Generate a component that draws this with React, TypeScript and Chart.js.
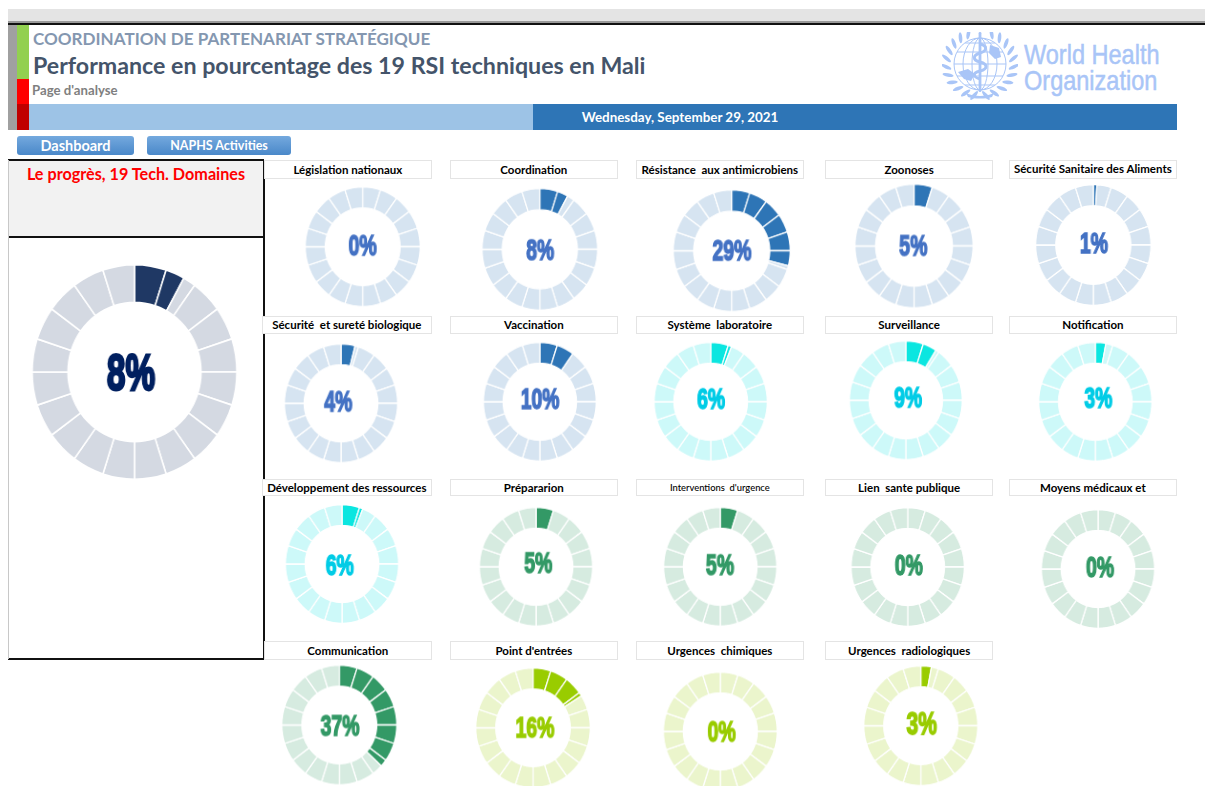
import React, { useEffect, useRef } from "react";
import { Chart, registerables } from "chart.js";

Chart.register(...registerables);

// ---------- data ----------
const domainLabels = [
  "Législation nationaux", "Coordination", "Résistance  aux antimicrobiens", "Zoonoses", "Sécurité Sanitaire des Aliments",
  "Sécurité  et sureté biologique", "Vaccination", "Système  laboratoire", "Surveillance", "Notification",
  "Développement des ressources", "Prépararion", "Interventions  d'urgence", "Lien  sante publique", "Moyens médicaux et",
  "Communication", "Point d'entrées", "Urgences  chimiques", "Urgences  radiologiques",
];
const domainValues = [0, 8, 29, 5, 1, 4, 10, 6, 9, 3, 6, 5, 5, 0, 0, 37, 16, 0, 3];
const overallValue = 8;
const overallTitle = "Le progrès, 19 Tech. Domaines";
const segmentCount = 20;
const segmentSize = 5;

// ---------- layout (page pixels) ----------
const ringCx = [362.7, 539.8, 731.7, 914, 1093.3, 341, 539.8, 710.7, 905.8, 1095.3, 342, 536, 720.2, 907.7, 1098, 339.3, 533, 720.3, 920.8];
const ringCy = [246.7, 249.3, 250.7, 246, 245, 403.3, 401.7, 401.7, 400.3, 401.7, 564, 566.7, 566.7, 567, 569, 725, 727.8, 731.4, 725.7];
const ringRx = [56.7, 57, 57.7, 58.3, 56.7, 56, 55.8, 56, 55.8, 56, 56, 56, 56, 56, 56, 56.7, 56.3, 56.3, 56.2];
const ringRy = [59, 60, 60, 61, 59.3, 58.7, 58.7, 58.7, 58.7, 58.7, 58.7, 58.7, 58.7, 58.7, 58.7, 59, 58.8, 58.7, 59];
const textCx = [362.7, 540.2, 732, 913.3, 1094, 338.3, 540, 711, 908, 1098.3, 339.7, 538.3, 720, 908.7, 1100, 340, 535, 721.7, 921.7];
const textCy = [245, 249.5, 249.7, 245.5, 242.8, 400.8, 398.5, 398.5, 396.5, 397, 565, 562.7, 564.5, 565, 566.3, 725, 727.2, 730.7, 723];
const ringGroup = ["blue", "blue", "blue", "blue", "blue", "blue", "blue", "cyan", "cyan", "cyan", "cyan", "green", "green", "green", "green", "green", "lime", "lime", "lime"];
const boxLeft = [264, 450, 636, 825, 1009, 262, 450, 636, 825, 1009, 262, 450, 636, 825, 1009, 264, 450, 636, 825];
const boxRight = [431.7, 617.7, 803.7, 993.3, 1176.7, 431.7, 617.7, 803.7, 993.3, 1176.7, 431.7, 617.7, 803.7, 993.3, 1176.7, 431.7, 617.7, 803.7, 993.3];
const rowTop = [160, 316, 479, 641];
const rowHeight = [18.5, 18, 17, 18.5];
const rowLine = [18, 16.5, 15, 18];

const palette: Record<string, { dark: string; light: string; text: string }> = {
  blue: { dark: "#2E75B6", light: "#D6E4F1", text: "#4472C4" },
  cyan: { dark: "#0BE6E0", light: "#CDF9F9", text: "#00CCE6" },
  green: { dark: "#339966", light: "#D6EBE0", text: "#339966" },
  lime: { dark: "#99CC00", light: "#EBF5CC", text: "#99CC00" },
  navy: { dark: "#1F3864", light: "#D4D9E2", text: "#002060" },
};

function slicesFor(value: number) {
  const data: number[] = [];
  const kinds: boolean[] = [];
  for (let i = 0; i < segmentCount; i++) {
    const low = i * segmentSize;
    const high = low + segmentSize;
    if (value >= high) {
      data.push(segmentSize);
      kinds.push(true);
    } else if (value <= low) {
      data.push(segmentSize);
      kinds.push(false);
    } else {
      data.push(value - low, high - value);
      kinds.push(true, false);
    }
  }
  return { data, kinds };
}

type RingProps = {
  value: number;
  group: string;
  cx: number;
  cy: number;
  rx: number;
  ry: number;
  tx: number;
  ty: number;
  fontSize: number;
  border: number;
};

function Ring({ value, group, cx, cy, rx, ry, tx, ty, fontSize, border }: RingProps) {
  const ref = useRef<HTMLCanvasElement>(null);
  const size = Math.ceil(2 * ry + 2 * border);
  const sx = rx / ry;
  const left = cx - (size * sx) / 2;
  const top = cy - size / 2;
  useEffect(() => {
    const colors = palette[group];
    const { data, kinds } = slicesFor(value);
    const chart = new Chart(ref.current!, {
      type: "doughnut",
      data: {
        labels: data.map((_, i) => String(i)),
        datasets: [
          {
            data,
            backgroundColor: kinds.map((k) => (k ? colors.dark : colors.light)),
            borderColor: "#FFFFFF",
            borderWidth: border,
            hoverOffset: 0,
          },
        ],
      },
      options: {
        animation: false,
        responsive: false,
        cutout: "65%",
        plugins: { legend: { display: false }, tooltip: { enabled: false } },
      },
      plugins: [
        {
          id: "centerPercent",
          afterDraw(c: Chart) {
            const ctx = c.ctx;
            ctx.save();
            ctx.translate((tx - left) / sx, ty - top);
            ctx.scale(0.7, 1);
            ctx.font = `700 ${fontSize}px "Liberation Sans"`;
            ctx.textAlign = "center";
            ctx.textBaseline = "alphabetic";
            ctx.fillStyle = colors.text;
            ctx.strokeStyle = colors.text;
            ctx.lineWidth = fontSize / 18;
            ctx.lineJoin = "miter";
            const label = `${value}%`;
            ctx.fillText(label, 0, fontSize * 0.36);
            ctx.strokeText(label, 0, fontSize * 0.36);
            ctx.restore();
          },
        },
      ],
    });
    return () => chart.destroy();
  }, []);
  return (
    <canvas
      ref={ref}
      width={size}
      height={size}
      style={{
        position: "absolute",
        left: 0,
        top: 0,
        width: size,
        height: size,
        transformOrigin: "0 0",
        transform: `translate(${left}px, ${top}px) scale(${sx}, 1)`,
      }}
    />
  );
}

const abs = (left: number, top: number, width: number, height: number, extra: React.CSSProperties = {}): React.CSSProperties => ({
  position: "absolute",
  left,
  top,
  width,
  height,
  ...extra,
});

function Emblem() {
  const c = "#A9C5F7";
  const leaves = [] as React.ReactNode[];
  for (let side = -1; side <= 1; side += 2) {
    for (let i = 0; i < 11; i++) {
      const a = ((-70 + i * 15) * Math.PI) / 180;
      const x = 38 + side * 34 * Math.cos(a);
      const y = 32 + 32 * Math.sin(a);
      const deg = side * (-70 + i * 15 + 60);
      leaves.push(
        <ellipse key={`${side}-${i}`} cx={x} cy={y} rx={1.8} ry={5.6} fill={c} transform={`rotate(${deg} ${x} ${y})`} />
      );
    }
  }
  return (
    <svg style={abs(942, 32, 76, 68)} viewBox="0 0 76 68">
      {leaves}
      <g fill="none" stroke={c} strokeWidth={1}>
        <ellipse cx={38} cy={32} rx={26} ry={26} />
        <ellipse cx={38} cy={32} rx={17} ry={26} />
        <ellipse cx={38} cy={32} rx={8} ry={26} />
        <path d="M12 32H64M15 20H61M15 44H61M23 11H53M23 53H53" />
      </g>
      <rect x={36.6} y={0} width={2.8} height={60} rx={1.2} fill={c} />
      <path d="M38 12c8 2 7 7 0 9s-8 7 0 9 8 7 0 9-7 6 0 8" fill="none" stroke={c} strokeWidth={3} />
      <path d="M16 40l10-3 7 5-4 7-7-2zM48 13l9 3 2 9-6 2-6-6z" fill={c} />
      <path d="M24 61c8 4 20 4 28 0l-2 4c-7 2-17 2-24 0z" fill={c} />
    </svg>
  );
}

function LogoLine({ top, text }: { top: number; text: string }) {
  return (
    <div
      style={abs(1024, top, 170, 30, {
        color: "#A9C5F7",
        fontFamily: "Liberation Sans",
        fontWeight: 400,
        fontSize: 28,
        lineHeight: "30px",
        whiteSpace: "nowrap",
        transformOrigin: "0 0",
        transform: "scaleX(0.84)",
        WebkitTextStroke: "0.5px #A9C5F7",
      })}
    >
      {text}
    </div>
  );
}

export default function App() {
  const rowOf = (i: number) => (i < 5 ? 0 : i < 10 ? 1 : i < 15 ? 2 : 3);
  const labelFont: React.CSSProperties = { fontFamily: "Lato", fontWeight: 700, color: "#000" };
  return (
    <div style={abs(0, 0, 1205, 786, { overflow: "hidden", background: "#fff", filter: "blur(0.35px)" })}>
      <style>{`html,body{margin:0;padding:0;overflow:hidden;background:#fff}`}</style>

      {/* window band and header */}
      <div style={abs(8, 9, 1197, 13, { background: "#E4E4E4" })} />
      <div style={abs(8, 21, 1197, 2, { background: "#9A9A9A" })} />
      <div style={abs(8, 23, 1197, 2, { background: "#111" })} />
      <div style={abs(8, 25, 9, 105, { background: "#A0A0A0" })} />
      <div style={abs(17, 25, 12, 54, { background: "#92D050" })} />
      <div style={abs(17, 79, 12, 25, { background: "#FF0000" })} />
      <div style={abs(17, 104, 12, 26, { background: "#C00000" })} />
      <div style={abs(29, 104, 504, 26, { background: "#9DC3E6" })} />
      <div style={abs(533, 104, 644, 26, { background: "#2E75B6" })} />
      <div style={abs(533, 104, 294, 26, { color: "#fff", fontFamily: "Lato", fontWeight: 700, fontSize: 13.4, lineHeight: "26px", textAlign: "center", whiteSpace: "nowrap" })}>
        Wednesday, September 29, 2021
      </div>
      <div style={abs(33, 28, 500, 22, { color: "#8497B0", fontFamily: "Lato", fontWeight: 700, fontSize: 17.07, lineHeight: "22px", whiteSpace: "nowrap" })}>
        COORDINATION DE PARTENARIAT STRATÉGIQUE
      </div>
      <div style={abs(33, 50, 700, 30, { color: "#44546A", fontFamily: "Lato", fontWeight: 700, fontSize: 23.2, lineHeight: "30px", whiteSpace: "nowrap" })}>
        Performance en pourcentage des 19 RSI techniques en Mali
      </div>
      <div style={abs(32, 82, 200, 16, { color: "#7F7F7F", fontFamily: "Lato", fontWeight: 700, fontSize: 13.2, lineHeight: "16px", whiteSpace: "nowrap" })}>
        Page d'analyse
      </div>

      {/* logo */}
      <Emblem />
      <LogoLine top={40} text="World Health" />
      <LogoLine top={66} text="Organization" />

      {/* buttons */}
      {[
        { label: "Dashboard", l: 17, w: 117, fs: 14.5 },
        { label: "NAPHS Activities", l: 147, w: 144, fs: 12.5 },
      ].map((b) => (
        <div
          key={b.label}
          style={abs(b.l, 136, b.w, 19, {
            background: "linear-gradient(#74A9DE, #4A88C9)",
            borderRadius: 3,
            color: "#fff",
            fontFamily: "Lato",
            fontWeight: 700,
            fontSize: b.fs,
            lineHeight: "19px",
            textAlign: "center",
          })}
        >
          {b.label}
        </div>
      ))}

      {/* left panel */}
      <div style={abs(8, 160, 256, 77, { background: "#F2F2F2" })} />
      <div style={abs(8, 159, 256, 2, { background: "#111" })} />
      <div style={abs(8, 236, 256, 2, { background: "#111" })} />
      <div style={abs(8, 658, 256, 1.5, { background: "#111" })} />
      <div style={abs(263, 160, 1.5, 499, { background: "#111" })} />
      <div style={abs(8, 160, 1, 499, { background: "#C8C8C8" })} />
      <div style={abs(9, 164, 254, 20, { color: "#FF0000", fontFamily: "Lato", fontWeight: 700, fontSize: 16.2, lineHeight: "20px", textAlign: "center", whiteSpace: "nowrap" })}>
        {overallTitle}
      </div>

      {/* labels */}
      {domainLabels.map((label, i) => {
        const small = i === 12;
        const r = rowOf(i);
        return (
          <div
            key={label}
            style={abs(boxLeft[i], rowTop[r], boxRight[i] - boxLeft[i], rowHeight[r], {
              boxSizing: "border-box",
              background: "#fff",
              border: "1px solid #E4E4E4",
              ...labelFont,
              fontSize: small ? 9.4 : 11.5,
              fontWeight: small ? 500 : 700,
              lineHeight: `${i === 4 ? rowLine[r] - 1.5 : rowLine[r]}px`,
              textAlign: "center",
              whiteSpace: "pre",
            })}
          >
            {label}
          </div>
        );
      })}

      {/* rings */}
      <Ring value={overallValue} group="navy" cx={134.5} cy={372} rx={101.2} ry={106} tx={131} ty={371.7} fontSize={50} border={1.6} />
      {domainValues.map((v, i) => (
        <Ring
          key={i}
          value={v}
          group={ringGroup[i]}
          cx={ringCx[i]}
          cy={ringCy[i]}
          rx={ringRx[i]}
          ry={ringRy[i]}
          tx={textCx[i]}
          ty={textCy[i]}
          fontSize={i === 18 ? 31.5 : 29}
          border={1.3}
        />
      ))}
    </div>
  );
}
